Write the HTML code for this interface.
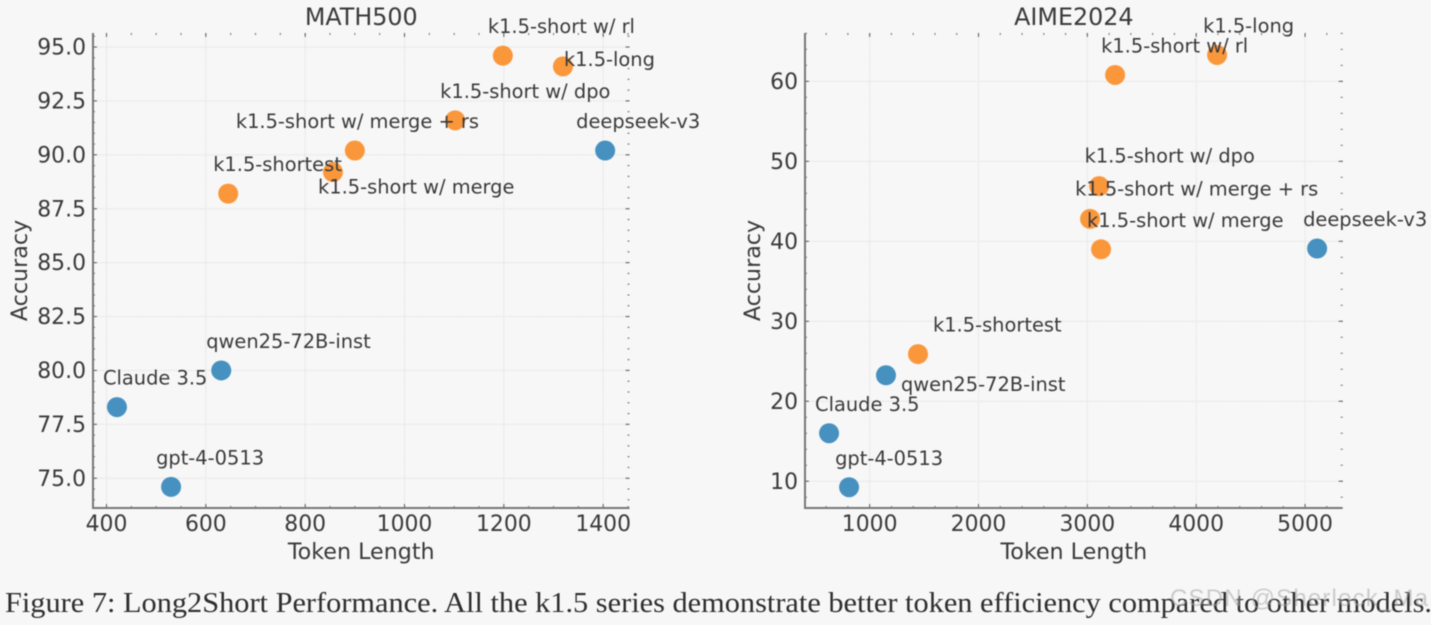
<!DOCTYPE html>
<html>
<head>
<meta charset="utf-8">
<style>
html,body{margin:0;padding:0;background:#f7f7f7;width:1431px;height:625px;overflow:hidden}
svg{display:block;filter:blur(0.45px)}
text{font-family:"DejaVu Sans","Liberation Sans",sans-serif;fill:#3a3a3a}
</style>
</head>
<body>
<svg id="fig" xmlns="http://www.w3.org/2000/svg" width="1431" height="625" viewBox="0 0 1431 625">
<rect width="1431" height="625" fill="#f7f7f7"/>
<text x="5" y="612" textLength="1427" lengthAdjust="spacingAndGlyphs" style="font-family:'Liberation Serif',serif;font-size:28.8px;fill:#2e2e2e">Figure 7: Long2Short Performance. All the k1.5 series demonstrate better token efficiency compared to other models.</text>
<text x="1170" y="606" textLength="258" style="font-family:'Liberation Sans',sans-serif;font-size:24px;fill:#a8a8a8;fill-opacity:.55">CSDN @Sherlock_Ma</text>
</svg>
<script>
const mathModels = ['gpt-4-0513','Claude 3.5','qwen25-72B-inst','deepseek-v3','k1.5-shortest','k1.5-short w/ merge','k1.5-short w/ merge + rs','k1.5-short w/ dpo','k1.5-short w/ rl','k1.5-long'];
const mathTokens = [530,421,631,1404,645,856,900,1102,1198,1319];
const mathAccuracy = [74.6,78.3,80.0,90.2,88.2,89.2,90.2,91.6,94.6,94.1];
const aimeModels = ['gpt-4-0513','Claude 3.5','qwen25-72B-inst','deepseek-v3','k1.5-shortest','k1.5-short w/ merge','k1.5-short w/ merge + rs','k1.5-short w/ dpo','k1.5-short w/ rl','k1.5-long'];
const aimeTokens = [811,627,1150,5111,1444,3126,3025,3108,3255,4192];
const aimeAccuracy = [9.25,16,23.25,39.1,25.9,39,42.8,46.9,60.8,63.3];
const mathXTicks = [400,600,800,1000,1200,1400];
const mathYTicks = ['75.0','77.5','80.0','82.5','85.0','87.5','90.0','92.5','95.0'];
const aimeXTicks = [1000,2000,3000,4000,5000];
const aimeYTicks = ['10','20','30','40','50','60'];
const seriesGroup = ['baseline','baseline','baseline','baseline','k1.5','k1.5','k1.5','k1.5','k1.5','k1.5'];

const svg = document.getElementById('fig');
const NS = 'http://www.w3.org/2000/svg';
const groupColor = {'baseline':'#3d8bbd','k1.5':'#fb9130'};

function make(tag, attrs, parent, content) {
  const el = document.createElementNS(NS, tag);
  for (const k in attrs) el.setAttribute(k, attrs[k]);
  if (content !== undefined) el.textContent = content;
  parent.appendChild(el);
  return el;
}
function slug(s) { return s.toLowerCase().replace(/[^a-z0-9]+/g, '-').replace(/-$/, ''); }

function drawPanel(cfg) {
  const box = cfg.box;
  const xs = v => box.l + (v - cfg.xlim[0]) / (cfg.xlim[1] - cfg.xlim[0]) * (box.r - box.l);
  const ys = v => box.b - (v - cfg.ylim[0]) / (cfg.ylim[1] - cfg.ylim[0]) * (box.b - box.t);

  const g = make('g', {}, svg);
  
  

  const title = make('text', {x:(box.l+box.r)/2, y:25, 'text-anchor':'middle', 'font-size':23.8}, g, cfg.title);
  
  

  function minorTicks(ticks, step) {
    const out = [];
    const lim = step.lim;
    const first = Number(ticks[0]);
    const major = Number(ticks[1]) - first;
    const minor = major / step.n;
    for (let v = first - Math.ceil((first - lim[0]) / minor) * minor; v <= lim[1]; v += minor) {
      if (v >= lim[0]) out.push(v);
    }
    return out;
  }

  // minor ticks
  minorTicks(cfg.xTicks, {n:cfg.xMinor, lim:cfg.xlim}).forEach(v => {
    const px = xs(v);
    const a = make('line', {x1:px, x2:px, y1:box.b, y2:box.b-2, stroke:'#777', 'stroke-width':1.1}, g);
    
    
    const b = make('line', {x1:px, x2:px, y1:box.t, y2:box.t+2, stroke:'#777', 'stroke-width':1.1}, g);
    
    
  });
  minorTicks(cfg.yTicks, {n:cfg.yMinor, lim:cfg.ylim}).forEach(v => {
    const py = ys(v);
    const a = make('line', {x1:box.l, x2:box.l+2, y1:py, y2:py, stroke:'#777', 'stroke-width':1.1}, g);
    
    
    const b = make('line', {x1:box.r, x2:box.r-2, y1:py, y2:py, stroke:'#777', 'stroke-width':1.1}, g);
    
    
  });

  // gridlines, major ticks, tick labels
  cfg.xTicks.forEach(t => {
    const px = xs(Number(t));
    const grid = make('line', {x1:px, x2:px, y1:box.t, y2:box.b, stroke:'#e4e4e4', 'stroke-width':1.2, 'stroke-dasharray':'1.5 1'}, g);
    
    
    const a = make('line', {x1:px, x2:px, y1:box.b, y2:box.b-4, stroke:'#666', 'stroke-width':1.1}, g);
    
    
    const b = make('line', {x1:px, x2:px, y1:box.t, y2:box.t+4, stroke:'#666', 'stroke-width':1.1}, g);
    
    
    const label = make('text', {x:px, y:531, 'text-anchor':'middle', 'font-size':21.9}, g, String(t));
    
    
  });
  cfg.yTicks.forEach(t => {
    const py = ys(Number(t));
    const grid = make('line', {x1:box.l, x2:box.r, y1:py, y2:py, stroke:'#e4e4e4', 'stroke-width':1.2, 'stroke-dasharray':'1.5 1'}, g);
    
    
    const a = make('line', {x1:box.l, x2:box.l+4, y1:py, y2:py, stroke:'#666', 'stroke-width':1.1}, g);
    
    
    const b = make('line', {x1:box.r, x2:box.r-4, y1:py, y2:py, stroke:'#666', 'stroke-width':1.1}, g);
    
    
    const label = make('text', {x:box.l-7, y:py+7.6, 'text-anchor':'end', 'font-size':21.9}, g, String(t));
    
    
  });

  // spines
  const sl = make('line', {x1:box.l, x2:box.l, y1:box.t, y2:box.b+1, stroke:'#777', 'stroke-width':2}, g);
  
  
  const sb = make('line', {x1:box.l, x2:box.r, y1:box.b, y2:box.b, stroke:'#777', 'stroke-width':2}, g);
  
  

  // axis titles
  const xt = make('text', {x:(box.l+box.r)/2, y:559, 'text-anchor':'middle', 'font-size':22.2}, g, 'Token Length');
  
  
  const yx = cfg.yTitleX, yy = (box.t+box.b)/2;
  const yt = make('text', {x:yx, y:yy, 'text-anchor':'middle', 'font-size':22.2, transform:'rotate(-90 '+yx+' '+yy+')'}, g, 'Accuracy');
  
  

  // points first, then labels on top
  cfg.models.forEach((m, i) => {
    const c = make('circle', {cx:xs(cfg.tokens[i]), cy:ys(cfg.accuracy[i]), r:10, fill:groupColor[seriesGroup[i]], 'fill-opacity':.95}, g);
    
    
  });
  cfg.models.forEach((m, i) => {
    const off = cfg.offset(m);
    const t = make('text', {x:xs(cfg.tokens[i]) + off[0], y:ys(cfg.accuracy[i]) + off[1] - 0.4, 'font-size':19.42}, g, m);
    
    
  });
}

// annotation placement relative to each marker, by label
function mathOffset(m) {
  if (m === 'k1.5-long') return [1, 0];
  if (m === 'k1.5-short w/ merge') return [-15, 22];
  if (m === 'k1.5-short w/ merge + rs') return [-119, -22];
  if (m === 'deepseek-v3') return [-29, -22];
  if (m === 'Claude 3.5') return [-14, -22];
  return [-15, -22];
}
function aimeOffset(m) {
  if (m === 'qwen25-72B-inst') return [15, 16];
  if (m === 'k1.5-shortest') return [15, -22];
  if (m === 'k1.5-short w/ merge + rs') return [-15, -23];
  if (m === 'k1.5-short w/ dpo') return [-14.5, -23];
  return [-14, -22];
}

drawPanel({
  id:'math500', title:'MATH500',
  box:{l:93, r:629.5, t:33, b:508},
  xlim:[372.8,1453], ylim:[73.62,95.65],
  xTicks:mathXTicks, yTicks:mathYTicks, xMinor:4, yMinor:5,
  models:mathModels, tokens:mathTokens, accuracy:mathAccuracy,
  offset:mathOffset, yTitleX:27
});
drawPanel({
  id:'aime2024', title:'AIME2024',
  box:{l:805, r:1342.7, t:33, b:508},
  xlim:[406,5346], ylim:[6.65,66.05],
  xTicks:aimeXTicks, yTicks:aimeYTicks, xMinor:5, yMinor:5,
  models:aimeModels, tokens:aimeTokens, accuracy:aimeAccuracy,
  offset:aimeOffset, yTitleX:760
});
</script>
</body>
</html>
